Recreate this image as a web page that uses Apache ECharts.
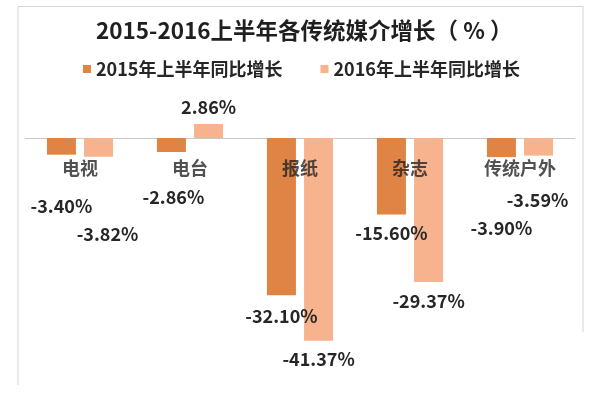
<!DOCTYPE html>
<html>
<head>
<meta charset="utf-8">
<script src="https://cdn.jsdelivr.net/npm/echarts@6/dist/echarts.min.js"></script>
<style>
html,body{margin:0;padding:0;background:#fff;}
#chart{width:609px;height:396px;}
</style>
</head>
<body>
<div id="chart"></div>
<script>
// ---- data ----
const categories = ['电视', '电台', '报纸', '杂志', '传统户外'];
const seriesNames = ['2015年上半年同比增长', '2016年上半年同比增长'];
const values2015 = [-3.40, -2.86, -32.10, -15.60, -3.90];
const values2016 = [-3.82, 2.86, -41.37, -29.37, -3.59];
const titleText = '2015-2016上半年各传统媒介增长（ % ）';

// ---- layout (label nudges, not data) ----
const offsets2015 = [[0, 32], [2, 26], [0, 2], [0, 0], [0, 52]];
const offsets2016 = [[9, 58], [0, 2], [0, -1], [0, 0], [-1, 26]];

const FONT = '"Noto Sans CJK SC", "Noto Sans", sans-serif';
const colors = ['#DF8444', '#F6B38D'];

function buildData(vals, offs) {
  return vals.map((v, i) => ({
    value: v,
    label: { offset: offs[i] }
  }));
}

const chart = echarts.init(document.getElementById('chart'));
chart.setOption({
  animation: false,
  backgroundColor: '#ffffff',
  color: colors,
  title: {
    text: titleText,
    left: 91,
    top: 14,
    textStyle: { fontFamily: FONT, fontSize: 22.5, fontWeight: 'bold', color: '#1f1f1f' }
  },
  legend: {
    data: seriesNames,
    left: 78,
    top: 55,
    icon: 'rect',
    itemWidth: 8,
    itemHeight: 8,
    itemGap: 38,
    textStyle: { fontFamily: FONT, fontSize: 18, fontWeight: 'bold', color: '#262626' }
  },
  grid: { left: 25, right: 34, top: 113.5, bottom: 13, containLabel: false, outerBoundsMode: 'none' },
  xAxis: {
    type: 'category',
    data: categories,
    axisLine: { show: true, onZero: true, lineStyle: { color: '#c8c8c8', width: 1 } },
    axisTick: { show: false },
    axisLabel: { show: false }
  },
  yAxis: {
    type: 'value',
    min: -50, max: 5,
    show: false,
    splitLine: { show: false }
  },
  graphic: [
    { type: 'polyline', silent: true, shape: { points: [[18, 385], [18, 6.5], [583, 6.5], [583, 332]] },
      style: { stroke: '#d4d4d4', fill: null, lineWidth: 1 } }
  ],
  series: [
    {
      name: seriesNames[0], type: 'bar', data: buildData(values2015, offsets2015),
      barWidth: 29, barGap: '28%',
      itemStyle: { color: colors[0] },
      label: {
        show: true, position: 'outside', distance: 10,
        formatter: p => p.value.toFixed(2) + '%',
        fontFamily: FONT, fontSize: 18, fontWeight: 'bold', color: '#262626'
      }
    },
    {
      name: seriesNames[1], type: 'bar', data: buildData(values2016, offsets2016),
      barWidth: 29, barGap: '28%',
      itemStyle: { color: colors[1] },
      label: {
        show: true, position: 'outside', distance: 10,
        formatter: p => p.value.toFixed(2) + '%',
        fontFamily: FONT, fontSize: 18, fontWeight: 'bold', color: '#262626'
      }
    },
    {
      // category names placed at the zero line
      name: 'categoryLabels', type: 'scatter', z: 10, silent: true,
      symbolSize: 0,
      data: categories.map(c => [c, 0]),
      label: {
        show: true, position: 'bottom', distance: 21,
        formatter: p => categories[p.dataIndex],
        fontFamily: FONT, fontSize: 18, fontWeight: 'bold', color: '#262626'
      }
    }
  ]
});
</script>
</body>
</html>
